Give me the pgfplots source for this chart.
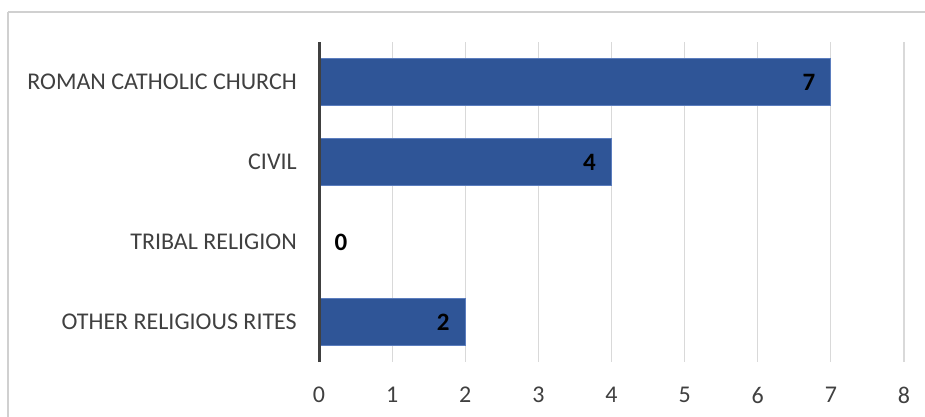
\documentclass[border=0pt]{standalone}
\usepackage{fontspec}
\setmainfont{Carlito}
\usepackage{pgfplots}
\pgfplotsset{compat=1.18}
\definecolor{barblue}{HTML}{2F5597}
\definecolor{baredge}{HTML}{5B7DBE}
\definecolor{gridgray}{HTML}{D9D9D9}
\definecolor{labelgray}{HTML}{404040}
\definecolor{framegray}{HTML}{D0D0D0}

\begin{document}
\begin{tikzpicture}
% outer chart frame (runs past the right and bottom edges)
\draw[framegray, line width=1.5pt] (8pt,405pt) -- (940pt,405pt);
\draw[framegray, line width=1.5pt] (8pt,405pt) -- (8pt,-20pt);
\begin{axis}[
    at={(319pt,55pt)}, anchor=south west,
    scale only axis,
    width=585pt, height=320pt,
    xbar, bar width=47pt, bar shift=0pt,
    xmin=0, xmax=8,
    ymin=-0.5, ymax=3.5,
    y dir=reverse,
    clip=false,
    xtick={0,...,8},
    ytick={0,1,2,3},
    yticklabels={ROMAN CATHOLIC CHURCH, CIVIL, TRIBAL RELIGION, OTHER RELIGIOUS RITES},
    xmajorgrids, grid style={gridgray, line width=1.2pt},
    axis line style={draw=none},
    major tick length=0pt,
    /pgf/number format/assume math mode=true,
    tick label style={font=\fontsize{24}{28}\selectfont, text=labelgray},
    xticklabel style={anchor=center, yshift=-33pt},
    yticklabel style={anchor=east, inner sep=0pt, xshift=-22pt},
    nodes near coords,
    nodes near coords style={font=\fontsize{25}{28}\selectfont\bfseries, text=black},
]
\addplot[fill=barblue, draw=baredge, line width=0.8pt,
    every node near coord/.append style={anchor=center, xshift=-22pt}]
    coordinates {(7,0) (4,1) (2,3)};
\addplot[draw=none, fill=none,
    every node near coord/.append style={anchor=center, xshift=22pt}]
    coordinates {(0,2)};
\draw[labelgray, line width=3pt] (rel axis cs:0,0) -- (rel axis cs:0,1);
\end{axis}
\pgfresetboundingbox
\useasboundingbox (0,0) rectangle (925pt,417pt);
\end{tikzpicture}
\end{document}
